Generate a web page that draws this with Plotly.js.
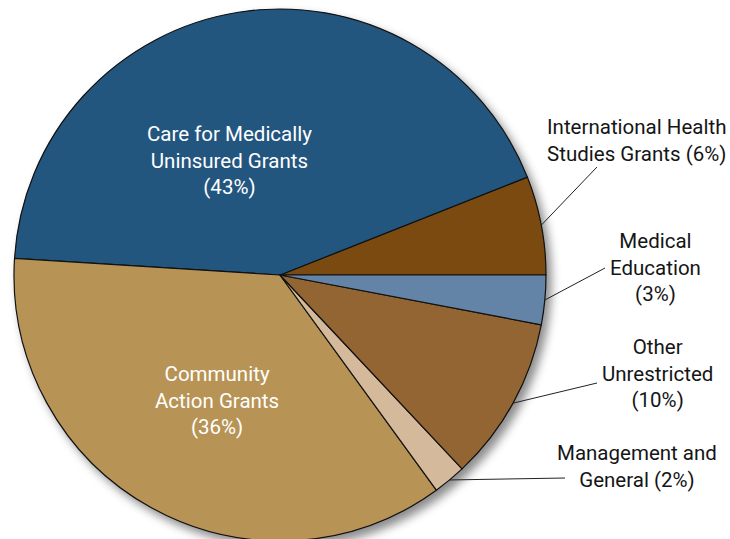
<!DOCTYPE html>
<html>
<head>
<meta charset="utf-8">
<script src="https://cdn.plot.ly/plotly-3.0.1.min.js"></script>
<style>
  html, body { margin: 0; padding: 0; overflow: hidden; background: #fff; }
  #chart { width: 730px; height: 545px; }
  #chart .pielayer { filter: drop-shadow(5px 6px 5px rgba(0,0,0,0.45)); }
</style>
</head>
<body>
<div id="chart"></div>
<script>
// ---- data ----
const labels = [
  'International Health Studies Grants',
  'Care for Medically Uninsured Grants',
  'Community Action Grants',
  'Management and General',
  'Other Unrestricted',
  'Medical Education'
];
const values = [6, 43, 36, 2, 10, 3];
const labelLines = [
  'International Health<br>Studies Grants',
  'Care for Medically<br>Uninsured Grants',
  'Community<br>Action Grants',
  'Management and<br>General',
  'Other<br>Unrestricted',
  'Medical<br>Education'
];
const pctSeparator = [' ', '<br>', '<br>', ' ', '<br>', '<br>'];

// ---- styles / layout positions ----
const colors = ['#7a4a10', '#23567f', '#b79455', '#d4ba9b', '#936533', '#6484a7'];
const inside = [false, true, true, false, false, false];
const textPos = [[636, 140], [229, 160], [217, 400], [637, 466], [657, 373], [655, 267]];
const lineEnd = [[597, 167], null, null, [565, 478], [597, 383], [605, 268]];

const W = 730, H = 545;
const cx = 280, cy = 275, R = 266;
const px = v => v / W;
const py = v => 1 - v / H;

const total = values.reduce((a, b) => a + b, 0);
const annotations = [];
const shapes = [];
let cum = 0;
values.forEach((v, i) => {
  const mid = (cum + v / 2) / total * 2 * Math.PI; // counterclockwise from 3 o'clock
  cum += v;
  annotations.push({
    xref: 'paper', yref: 'paper',
    x: px(textPos[i][0]), y: py(textPos[i][1]),
    xanchor: 'center', yanchor: 'middle',
    showarrow: false, align: 'center',
    text: labelLines[i] + pctSeparator[i] + '(' + v + '%)',
    font: { family: 'Roboto, sans-serif', size: 20.5,
            color: inside[i] ? '#ffffff' : '#151515' }
  });
  if (lineEnd[i]) {
    const sx = cx + R * Math.cos(mid), sy = cy - R * Math.sin(mid);
    shapes.push({
      type: 'line', xref: 'paper', yref: 'paper',
      x0: px(sx), y0: py(sy), x1: px(lineEnd[i][0]), y1: py(lineEnd[i][1]),
      line: { color: '#222', width: 1 }
    });
  }
});

const trace = {
  type: 'pie',
  labels: labels,
  values: values,
  sort: false,
  direction: 'counterclockwise',
  rotation: 90 - values[0] / total * 360,
  textinfo: 'none',
  hoverinfo: 'none',
  marker: { colors: colors, line: { color: '#111', width: 1.2 } },
  domain: { x: [(cx - R) / W, (cx + R) / W], y: [1 - (cy + R) / H, 1 - (cy - R) / H] },
  showlegend: false
};

const layout = {
  width: W, height: H,
  margin: { l: 0, r: 0, t: 0, b: 0 },
  paper_bgcolor: '#ffffff',
  showlegend: false,
  annotations: annotations,
  shapes: shapes
};

Plotly.newPlot('chart', [trace], layout, { displayModeBar: false, staticPlot: true });
</script>
</body>
</html>
